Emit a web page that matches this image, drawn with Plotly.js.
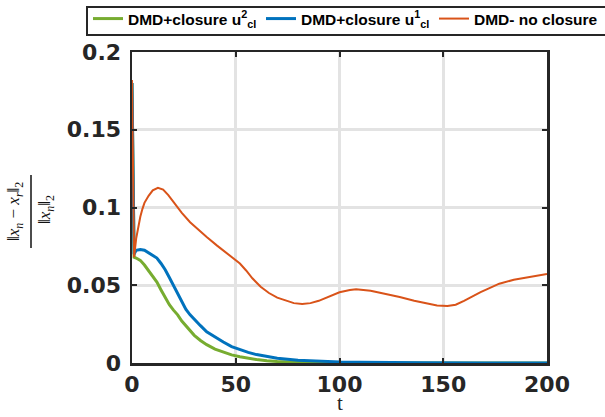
<!DOCTYPE html>
<html>
<head>
<meta charset="utf-8">
<script src="https://cdn.plot.ly/plotly-3.0.1.min.js"></script>
<style>html,body{margin:0;padding:0;background:#fff;}#chart{width:605px;height:417px;}</style>
</head>
<body>
<div id="chart"></div>
<script>
// Series names
const seriesNames = [
  "DMD+closure u<sup>2</sup><sub>cl</sub>",
  "DMD+closure u<sup>1</sup><sub>cl</sub>",
  "DMD- no closure"
];
const xTitle = "t";
const xTickVals = [0, 50, 100, 150, 200];
const yTickVals = [0, 0.05, 0.1, 0.15, 0.2];
const yTickText = ["0", "0.05", "0.1", "0.15", "0.2"];

// Closure u_cl^2 (green)
const tGreen = [0, 1, 2, 4, 6, 8, 10, 12, 14, 16, 18, 20, 22, 24, 26, 28, 30, 33, 36, 40, 44, 48, 52, 56, 60, 65, 70, 80, 90, 100, 120, 200];
const errGreen = [0.18, 0.068, 0.0675, 0.066, 0.063, 0.0595, 0.0558, 0.052, 0.047, 0.0418, 0.0375, 0.034, 0.031, 0.027, 0.0238, 0.021, 0.0178, 0.0145, 0.0118, 0.0089, 0.0068, 0.0052, 0.004, 0.003, 0.0022, 0.0015, 0.001, 0.0005, 0.0002, 0.0001, 0, 0];

// Closure u_cl^1 (blue)
const tBlue = [0, 1, 2, 4, 6, 8, 10, 12, 14, 16, 18, 20, 22, 24, 26, 28, 30, 33, 36, 40, 44, 48, 52, 56, 60, 65, 70, 80, 90, 100, 110, 120, 140, 170, 200];
const errBlue = [0.18, 0.070, 0.0725, 0.073, 0.0725, 0.071, 0.0695, 0.0675, 0.064, 0.060, 0.055, 0.050, 0.0445, 0.039, 0.0345, 0.031, 0.028, 0.024, 0.020, 0.0165, 0.0135, 0.0105, 0.0085, 0.0068, 0.0054, 0.0041, 0.0031, 0.0018, 0.0011, 0.0007, 0.0005, 0.0003, 0.0001, 0, 0];

// No closure (orange)
const tOrange = [0, 1, 2, 3, 4, 5, 6, 8, 10, 12.5, 15, 17.5, 20, 24, 28, 32, 36, 41, 45, 49, 52, 55, 58, 62, 66, 70, 74, 78, 82, 86, 90, 95, 100, 105, 108, 115, 122, 129, 136, 142, 147, 152, 156, 160, 164, 168, 172, 177, 184, 192, 200];
const errOrange = [0.182, 0.068, 0.080, 0.088, 0.094, 0.099, 0.103, 0.1075, 0.111, 0.1127, 0.1115, 0.108, 0.1035, 0.0965, 0.0905, 0.0855, 0.081, 0.0755, 0.0715, 0.0675, 0.064, 0.0595, 0.0545, 0.049, 0.045, 0.042, 0.040, 0.0385, 0.038, 0.0385, 0.040, 0.043, 0.0455, 0.047, 0.0475, 0.0465, 0.0445, 0.0424, 0.040, 0.0385, 0.037, 0.0366, 0.0375, 0.040, 0.043, 0.0456, 0.048, 0.051, 0.0535, 0.0555, 0.0572];

const traces = [
  {x: tGreen, y: errGreen, name: seriesNames[0], mode: "lines", line: {color: "#77ac30", width: 3}},
  {x: tBlue, y: errBlue, name: seriesNames[1], mode: "lines", line: {color: "#0072bd", width: 3}},
  {x: tOrange, y: errOrange, name: seriesNames[2], mode: "lines", line: {color: "#d95319", width: 2}}
];

const tickFont = {family: "DejaVu Sans, sans-serif", size: 22, color: "#262626", weight: "bold"};
const axisCommon = {
  showline: true, linecolor: "#262626", linewidth: 2.5, mirror: "ticks",
  ticks: "inside", ticklen: 5, tickwidth: 2, tickcolor: "#262626",
  showgrid: true, gridcolor: "#e3e3e3", gridwidth: 3, zeroline: false,
  tickfont: tickFont
};

const L = 132, T = 52, W = 415, H = 311;
const px = v => (v - L) / W;
const py = v => (T + H - v) / H;

const layout = {
  width: 605, height: 417,
  margin: {l: L, r: 605 - L - W, t: T, b: 417 - T - H, autoexpand: false},
  paper_bgcolor: "#fff", plot_bgcolor: "#fff",
  showlegend: true,
  legend: {
    orientation: "h", x: px(88), xanchor: "left", y: py(2), yanchor: "top",
    bgcolor: "rgba(255,255,255,0)", borderwidth: 0,
    font: {family: "Liberation Sans, Arial, sans-serif", size: 15.5, color: "#000", weight: "bold"},
    itemwidth: 30, tracegroupgap: 0, entrywidth: 128, entrywidthmode: "pixels"
  },
  xaxis: Object.assign({}, axisCommon, {
    range: [0, 200], tickvals: xTickVals, ticktext: xTickVals.map(String)
  }),
  yaxis: Object.assign({}, axisCommon, {
    range: [0, 0.2], tickvals: yTickVals, ticktext: yTickText, ticklabelstandoff: 4
  }),
  shapes: [
    {type: "rect", xref: "paper", yref: "paper", x0: px(87), x1: px(612), y0: py(7), y1: py(35), line: {color: "#262626", width: 2}},
    {type: "line", xref: "paper", yref: "paper", x0: px(31), x1: px(31), y0: py(175), y1: py(248), line: {color: "#111", width: 1.5}}
  ],
  annotations: [
    {xref: "paper", yref: "paper", x: 0.5, y: py(417), xanchor: "center", yanchor: "bottom", showarrow: false,
     text: xTitle, font: {family: "Liberation Serif, serif", size: 21, color: "#262626"}},
    {xref: "paper", yref: "paper", x: px(15), y: py(212), xanchor: "center", yanchor: "middle", showarrow: false, textangle: -90,
     text: "‖<i>x<sub>n</sub></i> − <i>x<sub>r</sub></i>‖<sub>2</sub>", font: {family: "Liberation Serif, serif", size: 17, color: "#111"}},
    {xref: "paper", yref: "paper", x: px(46), y: py(210), xanchor: "center", yanchor: "middle", showarrow: false, textangle: -90,
     text: "‖<i>x<sub>n</sub></i>‖<sub>2</sub>", font: {family: "Liberation Serif, serif", size: 17, color: "#111"}}
  ]
};

Plotly.newPlot("chart", traces, layout, {displayModeBar: false, staticPlot: true});
</script>
</body>
</html>
